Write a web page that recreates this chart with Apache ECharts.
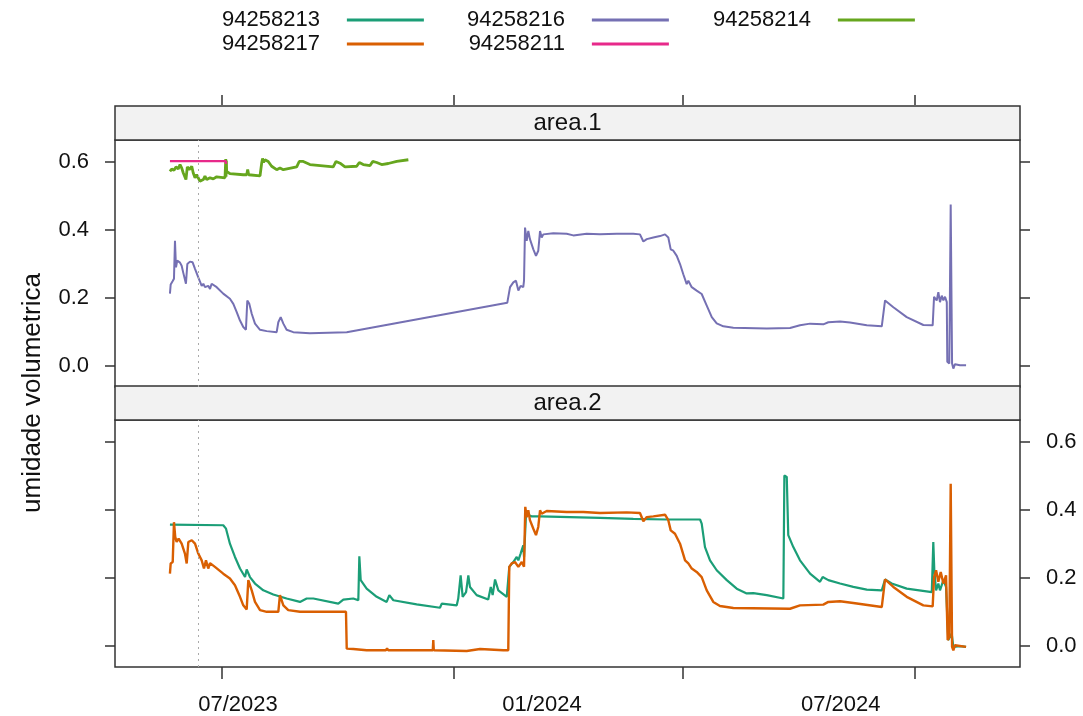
<!DOCTYPE html>
<html><head><meta charset="utf-8">
<script src="https://cdn.jsdelivr.net/npm/echarts@6/dist/echarts.min.js"></script>
<style>html,body{margin:0;padding:0;background:#fff}#c{width:1083px;height:716px}</style>
</head><body><div id="c"></div>
<script>
// x values: days since 2023-07-01
const ORIGIN = '2023-07-01';
const xTickDays = [0, 184, 366, 550];
const xLabelDays = [12.7, 254, 491];
const xLabels = ['07/2023', '01/2024', '07/2024'];
const yTicks = [0, 0.2, 0.4, 0.6];
const refLineDay = -19;
const panels = ['area.1', 'area.2'];
const yTitle = 'umidade volumetrica';

const s94258216 = [[-41.3,0.213],[-40.7,0.24],[-39.1,0.25],[-38.1,0.257],[-37.3,0.368],[-36.5,0.29],[-35.5,0.31],[-33.3,0.304],[-32,0.295],[-30.7,0.274],[-28.6,0.242],[-27.5,0.30],[-25.4,0.307],[-23.3,0.305],[-21.4,0.286],[-18.8,0.261],[-16.1,0.236],[-14.8,0.242],[-13.5,0.232],[-12.1,0.227],[-10.9,0.236],[-9.5,0.227],[-8.2,0.242],[-4.2,0.232],[1,0.213],[6.3,0.198],[9,0.183],[11.7,0.159],[14.3,0.134],[16.9,0.115],[19,0.107],[20.1,0.193],[21.7,0.183],[23.6,0.154],[26.2,0.125],[30.2,0.107],[35.5,0.103],[43.4,0.100],[44.7,0.129],[46.6,0.144],[48.7,0.125],[51.3,0.107],[56.6,0.100],[69.8,0.097],[99,0.100],[226.4,0.186],[228.6,0.232],[231.2,0.246],[233.3,0.251],[235.2,0.222],[237,0.236],[239.1,0.232],[239.7,0.251],[240.5,0.407],[241.8,0.368],[243.1,0.397],[244.4,0.373],[247.1,0.343],[249.2,0.324],[251,0.339],[252.4,0.397],[253.7,0.378],[255,0.387],[262.9,0.39],[273.6,0.389],[278.8,0.384],[289.4,0.389],[300,0.387],[313.3,0.389],[326.4,0.389],[331.7,0.387],[334.4,0.366],[337.1,0.373],[342.3,0.378],[347.6,0.382],[351.6,0.387],[354.2,0.378],[356.1,0.343],[358.2,0.339],[360.9,0.324],[363.5,0.30],[366.1,0.270],[368.8,0.241],[370.1,0.251],[372.8,0.232],[376.7,0.222],[380.7,0.212],[384.7,0.178],[388.7,0.144],[392.6,0.126],[397.9,0.117],[405.8,0.113],[432.3,0.111],[450.8,0.112],[458.7,0.120],[466.7,0.125],[477.2,0.123],[481.2,0.129],[490.5,0.131],[498.4,0.128],[511.7,0.120],[523.6,0.117],[526.2,0.193],[532.8,0.173],[543.4,0.144],[556.6,0.121],[564,0.120],[565.1,0.204],[567.2,0.193],[568.5,0.217],[569.8,0.188],[571.2,0.207],[572.5,0.193],[573.8,0.204],[575.2,0.188],[575.6,0.013],[577.2,0.008],[578.3,0.475],[579.4,0.475],[579.4,0.008],[580.4,-0.007],[581.7,0.006],[585.7,0.003],[590.5,0.003]];

const s94258214 = [[-41.3,0.572],[-39.9,0.579],[-38.1,0.575],[-36.5,0.585],[-34.7,0.579],[-33.3,0.592],[-32,0.582],[-30.7,0.567],[-28.6,0.548],[-27.5,0.585],[-26,0.577],[-24,0.587],[-22.8,0.567],[-21.4,0.553],[-20.1,0.562],[-17.5,0.543],[-14.8,0.548],[-13.5,0.558],[-12.1,0.548],[-9.5,0.553],[-6.9,0.550],[-4.2,0.556],[2.4,0.553],[3.0,0.608],[3.2,0.556],[3.5,0.604],[3.7,0.572],[6.3,0.565],[16.9,0.562],[19.6,0.562],[20.4,0.577],[21.2,0.562],[30.2,0.559],[31.5,0.596],[32.2,0.610],[33,0.598],[34.1,0.606],[36.7,0.601],[39.4,0.587],[43.4,0.577],[46,0.582],[48.7,0.577],[59.3,0.585],[61.3,0.601],[64.5,0.601],[69.8,0.592],[88.3,0.585],[90.5,0.601],[93.7,0.596],[97.6,0.585],[106.9,0.587],[109,0.598],[112.1,0.592],[117.5,0.589],[119.6,0.601],[122.8,0.598],[126.7,0.592],[132,0.595],[138.7,0.601],[147.9,0.606]];

const s94258211 = [[-41.3,0.602],[-20,0.602],[3,0.602],[3.3,0.594]];

const s94258213 = [[-41.3,0.357],[1,0.355],[3.2,0.345],[6.3,0.301],[10.3,0.262],[14.3,0.228],[18.3,0.203],[19.6,0.225],[22.2,0.203],[26.2,0.184],[32.8,0.164],[40.7,0.152],[51.3,0.140],[61.9,0.130],[67.2,0.140],[72.5,0.140],[92.3,0.125],[96.3,0.137],[104.2,0.140],[108.2,0.135],[109,0.264],[110.1,0.194],[114.8,0.169],[122.8,0.145],[130.7,0.130],[132.8,0.150],[136,0.135],[154.5,0.123],[173,0.113],[174.4,0.125],[186.3,0.120],[187.5,0.140],[189.4,0.208],[191,0.145],[193.7,0.159],[195.5,0.208],[196.8,0.174],[202.1,0.150],[211.3,0.137],[213.3,0.174],[214.8,0.150],[216.7,0.196],[219.3,0.164],[226,0.145],[228,0.233],[231.2,0.247],[233.9,0.262],[235.2,0.252],[237,0.272],[239.1,0.296],[239.7,0.262],[241.3,0.389],[245.8,0.381],[252.4,0.381],[300,0.377],[326.4,0.374],[352.9,0.372],[379.4,0.372],[380.7,0.360],[383.3,0.291],[387.3,0.252],[392.6,0.223],[400.6,0.194],[408.5,0.169],[416.4,0.155],[421.7,0.156],[432.3,0.150],[445.5,0.140],[446.3,0.501],[448.2,0.497],[449.4,0.326],[453.4,0.291],[458.7,0.252],[466.7,0.213],[474.6,0.189],[476.7,0.203],[481.2,0.194],[490.5,0.184],[501,0.174],[511.7,0.166],[523.6,0.164],[526.2,0.196],[531.5,0.184],[543.4,0.169],[563.3,0.159],[564.5,0.306],[565.3,0.223],[566.7,0.164],[568.5,0.184],[569.8,0.164],[572.5,0.194],[574.6,0.174],[576.4,0.018],[579.1,0.037],[580.4,-0.002],[585.7,0.0],[590.5,-0.002]];

const s94258217 = [[-41.3,0.213],[-40.7,0.243],[-39.1,0.247],[-38.1,0.364],[-37.1,0.321],[-36,0.306],[-34.4,0.316],[-32,0.301],[-29.4,0.272],[-28,0.243],[-26.7,0.306],[-24,0.311],[-21.4,0.301],[-18.8,0.272],[-16.1,0.252],[-14.3,0.228],[-12.7,0.252],[-10.9,0.228],[-9.5,0.244],[-5.6,0.233],[1,0.213],[6.3,0.199],[10.3,0.179],[14.3,0.145],[16.9,0.120],[19.6,0.108],[20.9,0.194],[23.6,0.164],[26.2,0.130],[30.2,0.106],[35.5,0.101],[44.7,0.101],[46,0.150],[48.7,0.120],[52.6,0.106],[61.9,0.101],[98.4,0.101],[99,-0.007],[104.2,-0.008],[114.8,-0.012],[130,-0.012],[131,-0.006],[132,-0.012],[146.6,-0.012],[167.3,-0.012],[167.7,0.018],[168.1,-0.012],[194.2,-0.014],[204.8,-0.008],[223.3,-0.012],[227.2,-0.012],[228,0.233],[229.9,0.243],[232.5,0.247],[235.2,0.233],[236.5,0.228],[237.9,0.247],[239.7,0.233],[240.7,0.409],[241.8,0.379],[243.1,0.399],[244.4,0.37],[247.1,0.345],[249.2,0.326],[251,0.35],[252.4,0.399],[253.7,0.389],[257.7,0.397],[273.6,0.394],[286.7,0.394],[300,0.391],[321.2,0.393],[331.7,0.391],[334.4,0.367],[337.1,0.379],[342.3,0.381],[351.6,0.386],[354.2,0.370],[356.1,0.340],[359.5,0.330],[363.5,0.301],[367.5,0.252],[370.1,0.243],[372.8,0.228],[376.7,0.218],[380.7,0.203],[384.7,0.164],[389.9,0.130],[395.2,0.118],[405.8,0.112],[450.8,0.110],[458.7,0.120],[477.2,0.122],[481.2,0.130],[490.5,0.132],[501,0.127],[523.6,0.115],[526.2,0.196],[532.8,0.174],[543.4,0.145],[556.6,0.120],[564,0.117],[565.1,0.203],[566.7,0.223],[568.5,0.189],[570.4,0.218],[572.5,0.184],[574.6,0.208],[575.9,0.018],[577.2,0.027],[578.3,0.477],[579.4,0.477],[579.4,-0.002],[580.4,-0.012],[581.7,0.003],[590.5,-0.002]];

const colors = {'94258213':'#1B9E77','94258217':'#D95F02','94258216':'#7570B3','94258211':'#E7298A','94258214':'#66A61E'};

const X_MIN = -84.9, X_MAX = 633.3, Y_MIN = -0.061, Y_MAX = 0.664;
const GL = 115, GR = 63, TOP1 = 140, H = 247, TOP2 = 420, STRIP = 34;
const axisCol = '#333';
const FF = 'Liberation Sans';
const BASE = 22;

function xAxisDef(gridIndex, pos) {
  const top = pos === 'top';
  return {
    type: 'value', gridIndex, position: pos, min: X_MIN, max: X_MAX,
    offset: top ? STRIP + 1 : 0,
    axisLine: {show: false, onZero: false}, splitLine: {show: false},
    axisTick: {show: true, inside: false, length: top ? 10 : 12, customValues: xTickDays, lineStyle: {color: axisCol, width: 1.5}},
    axisLabel: {show: !top, customValues: xLabelDays, margin: 27, fontFamily: FF, fontSize: BASE, color: '#111',
      formatter: v => { const i = xLabelDays.findIndex(d => Math.abs(d - v) < 0.01); return i >= 0 ? xLabels[i] : ''; }}
  };
}
function yAxisDef(gridIndex, pos, labels) {
  return {
    type: 'value', gridIndex, position: pos, min: Y_MIN, max: Y_MAX,
    axisLine: {show: false, onZero: false}, splitLine: {show: false},
    axisTick: {show: true, inside: false, length: 10, customValues: yTicks, lineStyle: {color: axisCol, width: 1.5}},
    axisLabel: {show: labels, customValues: yTicks, margin: 26, fontFamily: FF, fontSize: BASE, color: '#111',
      formatter: v => v.toFixed(1)}
  };
}
function line(name, data, xi, yi, w, mark) {
  const s = {name, type: 'line', data, xAxisIndex: xi, yAxisIndex: yi, showSymbol: false, symbol: 'none',
    lineStyle: {color: colors[name], width: w}, itemStyle: {color: colors[name]}, animation: false, z: 3};
  if (mark) s.markLine = {silent: true, symbol: 'none', label: {show: false},
    lineStyle: {color: '#aaa', type: [2, 4], width: 1}, data: [{xAxis: refLineDay}], animation: false};
  return s;
}
function legendCol(left, names) {
  return {orient: 'vertical', left, top: 9, align: 'right', itemWidth: 77, itemHeight: 3, itemGap: 2,
    icon: 'rect', selectedMode: false, data: names, padding: 0,
    formatter: n => n + '\u2002\u2002',
    textStyle: {fontFamily: FF, fontSize: BASE, color: '#111'}};
}

const chart = echarts.init(document.getElementById('c'), null, {renderer: 'canvas'});
chart.setOption({
  animation: false,
  backgroundColor: '#fff',
  legend: [legendCol(222, ['94258213', '94258217']), legendCol(467, ['94258216', '94258211']), legendCol(713, ['94258214'])],
  grid: [
    {left: GL, right: GR, top: TOP1, height: H, show: true, borderColor: axisCol, borderWidth: 1.5, backgroundColor: 'transparent'},
    {left: GL, right: GR, top: TOP2, height: H, show: true, borderColor: axisCol, borderWidth: 1.5, backgroundColor: 'transparent'}
  ],
  xAxis: [xAxisDef(0, 'top'), xAxisDef(1, 'bottom')],
  yAxis: [yAxisDef(0, 'left', true), yAxisDef(0, 'right', false), yAxisDef(1, 'left', false), yAxisDef(1, 'right', true)],
  graphic: [
    {type: 'rect', shape: {x: GL, y: TOP1 - STRIP, width: 1083 - GL - GR, height: STRIP}, style: {fill: '#F2F2F2', stroke: axisCol, lineWidth: 1.5}, z: 0},
    {type: 'rect', shape: {x: GL, y: TOP2 - STRIP, width: 1083 - GL - GR, height: STRIP}, style: {fill: '#F2F2F2', stroke: axisCol, lineWidth: 1.5}, z: 0},
    {type: 'text', x: GL + (1083 - GL - GR) / 2, y: TOP1 - STRIP / 2, style: {text: panels[0], font: '24px "Liberation Sans"', fill: '#111', textAlign: 'center', textVerticalAlign: 'middle'}, z: 5},
    {type: 'text', x: GL + (1083 - GL - GR) / 2, y: TOP2 - STRIP / 2, style: {text: panels[1], font: '24px "Liberation Sans"', fill: '#111', textAlign: 'center', textVerticalAlign: 'middle'}, z: 5},
    {type: 'text', x: 33, y: 393, rotation: Math.PI / 2, style: {text: yTitle, font: '26px "Liberation Sans"', fill: '#111', textAlign: 'center', textVerticalAlign: 'middle'}, z: 5}
  ],
  series: [
    line('94258216', s94258216, 0, 0, 2, true),
    line('94258214', s94258214, 0, 0, 2.8, false),
    line('94258211', s94258211, 0, 0, 2.4, false),
    line('94258213', s94258213, 1, 2, 2.2, true),
    line('94258217', s94258217, 1, 2, 2.4, false)
  ]
});
</script></body></html>
